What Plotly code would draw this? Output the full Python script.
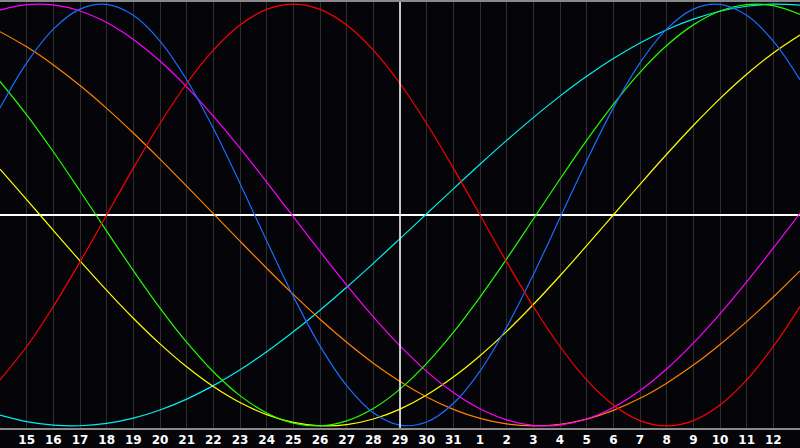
import plotly.graph_objects as go

# day labels: x index 0..30 (day 14 .. day 13 of next month)
days = ["14", "15", "16", "17", "18", "19", "20", "21", "22", "23", "24", "25", "26", "27",
        "28", "29", "30", "31", "1", "2", "3", "4", "5", "6", "7", "8", "9", "10", "11", "12", "13"]
today = "29"

red = [-0.7818, -0.6235, -0.4339, -0.2225, 0.0, 0.2225, 0.4339, 0.6235, 0.7818, 0.9010, 0.9749,
       1.0, 0.9749, 0.9010, 0.7818, 0.6235, 0.4339, 0.2225, 0.0, -0.2225, -0.4339, -0.6235,
       -0.7818, -0.9010, -0.9749, -1.0, -0.9749, -0.9010, -0.7818, -0.6235, -0.4339]
blue = [0.5079, 0.7215, 0.8815, 0.9762, 0.9985, 0.9468, 0.8248, 0.6414, 0.4109, 0.1497, -0.1226,
        -0.3859, -0.6205, -0.8090, -0.9376, -0.9966, -0.9818, -0.8941, -0.7401, -0.5312, -0.2828,
        -0.0136, 0.2566, 0.5079, 0.7215, 0.8815, 0.9762, 0.9985, 0.9468, 0.8248, 0.6414]
magenta = [0.9714, 0.9972, 0.9959, 0.9673, 0.9124, 0.8326, 0.7302, 0.6075, 0.4685, 0.3168, 0.1564,
           -0.0082, -0.1728, -0.3325, -0.4831, -0.6208, -0.7414, -0.8418, -0.9190, -0.9714, -0.9972,
           -0.9959, -0.9673, -0.9124, -0.8326, -0.7302, -0.6075, -0.4685, -0.3168, -0.1564, 0.0082]
orange = [0.8693, 0.7973, 0.7118, 0.6139, 0.5057, 0.3887, 0.2652, 0.1370, 0.0065, -0.1241, -0.2525,
          -0.3766, -0.4944, -0.6032, -0.7025, -0.7892, -0.8627, -0.9214, -0.9642, -0.9906, -1.0,
          -0.9923, -0.9676, -0.9264, -0.8693, -0.7973, -0.7118, -0.6139, -0.5057, -0.3887, -0.2652]
green = [0.6331, 0.4751, 0.2999, 0.1140, -0.0761, -0.2634, -0.4412, -0.6031, -0.7431, -0.8564, -0.9386,
         -0.9869, -0.9996, -0.9761, -0.9174, -0.8255, -0.7038, -0.5568, -0.3893, -0.2079, -0.0190,
         0.1705, 0.3539, 0.5246, 0.6764, 0.8034, 0.9015, 0.9671, 0.9978, 0.9924, 0.9511]
yellow = [0.2174, 0.0730, -0.0730, -0.2174, -0.3572, -0.4894, -0.6111, -0.7199, -0.8133, -0.8893, -0.9464,
          -0.9834, -0.9993, -0.9940, -0.9675, -0.9204, -0.8536, -0.7685, -0.6673, -0.5519, -0.4245,
          -0.2881, -0.1456, 0.0, 0.1456, 0.2881, 0.4245, 0.5519, 0.6673, 0.7685, 0.8536]
cyan = [-0.9492, -0.9798, -0.9966, -0.9994, -0.9881, -0.9631, -0.9245, -0.8729, -0.8090, -0.7336, -0.6483,
        -0.5537, -0.4514, -0.3427, -0.2292, -0.1123, 0.0059, 0.1241, 0.2406, 0.3538, 0.4619,
        0.5636, 0.6574, 0.7418, 0.8160, 0.8786, 0.9289, 0.9662, 0.9899, 0.9997, 0.9955]

series = [
    ("cyan", cyan, "#00f0f0"),
    ("yellow", yellow, "#ffff00"),
    ("orange", orange, "#ff8000"),
    ("magenta", magenta, "#ff00ff"),
    ("green", green, "#20ff00"),
    ("blue", blue, "#1a6cff"),
    ("red", red, "#ff0000"),
]

xs = list(range(len(days)))
tick_idx = xs[1:-1]
tick_txt = days[1:-1]
today_idx = days.index(today)

fig = go.Figure()
for name, vals, col in series:
    fig.add_trace(go.Scatter(x=xs, y=vals, mode="lines", name=name,
                             line=dict(color=col, width=1.2, shape="spline", smoothing=1.0),
                             hoverinfo="skip"))

fig.add_vline(x=today_idx, line=dict(color="#ffffff", width=1.5), layer="above")

fig.update_layout(
    width=800, height=448,
    margin=dict(l=0, r=0, t=0, b=20),
    paper_bgcolor="#050408", plot_bgcolor="#050408",
    showlegend=False,
    xaxis=dict(range=[0, len(days) - 1], tickvals=tick_idx, ticktext=tick_txt,
               showgrid=True, gridcolor="#2e2e2e", gridwidth=1,
               showline=True, linecolor="#8a8a8a", linewidth=1.5, mirror=True,
               ticks="", zeroline=False,
               tickfont=dict(family="DejaVu Sans", size=12, color="#ffffff", weight="bold")),
    yaxis=dict(range=[-1.01, 1.01], showgrid=False, showticklabels=False, ticks="",
               zeroline=True, zerolinecolor="#ffffff", zerolinewidth=1.5,
               showline=True, linecolor="#8a8a8a", linewidth=1.5),
)

fig.write_html("out.html", config={"displayModeBar": False},
               post_script="document.body.style.margin='0';document.body.style.padding='0';"
                           "document.body.style.overflow='hidden';"
                           "document.body.style.background='#050408';")
